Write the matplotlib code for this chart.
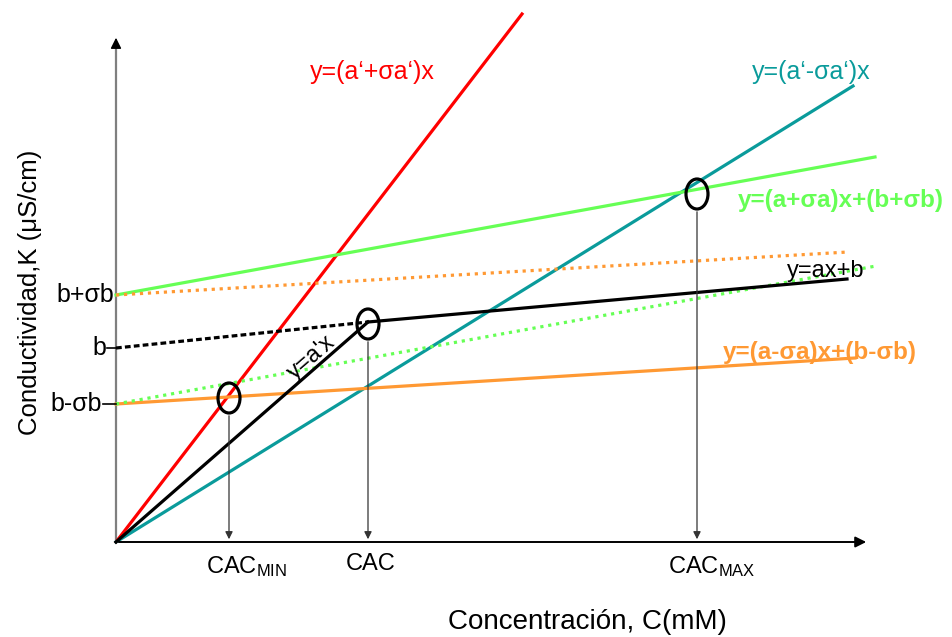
import matplotlib.pyplot as plt
from matplotlib.patches import Ellipse

plt.rcParams['font.family'] = ['Liberation Sans', 'DejaVu Sans']
plt.rcParams['mathtext.default'] = 'regular'

# coordenadas del esquema (origen en el cruce de los ejes)
rojo_x, rojo_y = [0, 406], [0, 528]            # y=(a'+sa')x
teal_x, teal_y = [0, 737], [0, 456]            # y=(a'-sa')x
negro_x, negro_y = [0, 252], [0, 220]          # y=a'x
negro_pt_x, negro_pt_y = [0, 252], [194, 220]  # y=ax+b, tramo punteado
negro_ln_x, negro_ln_y = [252, 731], [220, 263]
verde_x, verde_y = [0, 759], [247, 385]        # y=(a+sa)x+(b+sb)
naranja_pt_x, naranja_pt_y = [0, 732], [247, 290]
verde_pt_x, verde_pt_y = [0, 760], [138, 276]
naranja_x, naranja_y = [0, 739], [138, 184]    # y=(a-sa)x+(b-sb)

cac_x = [113, 252, 581]
cac_y = [144, 218, 348]
cac_labels = ['CAC$_{MIN}$', 'CAC', 'CAC$_{MAX}$']

ytick_vals = [247, 194, 138]
ytick_labels = ['b+σb', 'b', 'b-σb']

ROJO = '#ff0000'
TEAL = '#0a9b9b'
VERDE = '#66ff55'
NARANJA = '#ff9933'

fig = plt.figure(figsize=(9.52, 6.37), dpi=100)
ax = fig.add_axes([0, 0, 1, 1])
ax.set_xlim(-116, 836)
ax.set_ylim(-95, 542)
ax.axis('off')

# ejes con flecha
ax.plot([0, 0], [0, 500], color='#7f7f7f', lw=1.6, zorder=2)
ax.annotate('', xy=(0, 507), xytext=(0, 495),
            arrowprops=dict(arrowstyle='-|>', color='black', lw=1, mutation_scale=16))
ax.annotate('', xy=(753, 0), xytext=(0, 0),
            arrowprops=dict(arrowstyle='-|>', color='black', lw=1.4, mutation_scale=16))

lw = 2.3
ax.plot(rojo_x, rojo_y, color=ROJO, lw=lw)
ax.plot(teal_x, teal_y, color=TEAL, lw=lw)
ax.plot(verde_x, verde_y, color=VERDE, lw=lw)
ax.plot(naranja_x, naranja_y, color=NARANJA, lw=lw)
ax.plot(naranja_pt_x, naranja_pt_y, color=NARANJA, lw=lw, ls=(0, (1, 1.5)))
ax.plot(verde_pt_x, verde_pt_y, color=VERDE, lw=lw, ls=(0, (1, 1.5)))
ax.plot(negro_pt_x, negro_pt_y, color='black', lw=lw, ls=(0, (1.8, 1)))
ax.plot(negro_ln_x, negro_ln_y, color='black', lw=lw)
ax.plot(negro_x, negro_y, color='black', lw=lw)

# circulos y flechas hacia el eje x
for cx, cy, lab in zip(cac_x, cac_y, cac_labels):
    ax.add_patch(Ellipse((cx, cy), 22, 30, fill=False, ec='black', lw=2.3, zorder=5))
    ax.annotate('', xy=(cx, 0), xytext=(cx, cy - 15),
                arrowprops=dict(arrowstyle='-|>', color='#333333', lw=0.9, mutation_scale=11))
ax.text(90, -31, cac_labels[0], fontsize=17)
ax.text(230, -28, cac_labels[1], fontsize=17)
ax.text(552, -31, cac_labels[2], fontsize=17)

# etiquetas del eje y
ax.text(-2, ytick_vals[0], ytick_labels[0], fontsize=18, ha='right', va='center')
ax.text(-10, ytick_vals[1], ytick_labels[1], fontsize=18, ha='right', va='center')
ax.text(-14, ytick_vals[2], ytick_labels[2], fontsize=18, ha='right', va='center')
ax.plot([-9, 0], [ytick_vals[1]] * 2, color='black', lw=1.2)
ax.plot([-13, 0], [ytick_vals[2]] * 2, color='black', lw=1.2)

# ecuaciones
ax.text(256, 470, 'y=(a‘+σa‘)x', color=ROJO, fontsize=18, ha='center', va='center')
ax.text(695, 470, 'y=(a‘-σa‘)x', color=TEAL, fontsize=18, ha='center', va='center')
ax.text(725, 342, 'y=(a+σa)x+(b+σb)', color=VERDE, fontsize=17.5,
        fontweight='bold', ha='center', va='center')
ax.text(710, 271, 'y=ax+b', color='black', fontsize=17, ha='center', va='center')
ax.text(704, 190, 'y=(a-σa)x+(b-σb)', color=NARANJA, fontsize=17.5,
        fontweight='bold', ha='center', va='center')
ax.text(196, 184, "y=a'x", color='black', fontsize=17, rotation=41,
        ha='center', va='center', rotation_mode='anchor')

ax.text(471, -80, 'Concentración, C(mM)', fontsize=20, ha='center', va='center')
ax.text(-86, 250, 'Conductividad,K (μS/cm)', fontsize=18.5, rotation=90,
        ha='center', va='center')

fig.savefig('out.png', dpi=100)
